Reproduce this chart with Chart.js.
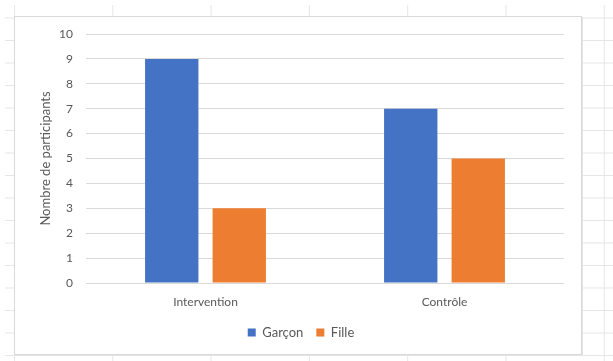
<!DOCTYPE html>
<html>
<head>
<meta charset="utf-8">
<script src="https://cdn.jsdelivr.net/npm/chart.js@4"></script>
<style>
  html, body { margin: 0; padding: 0; background: #fff; }
  body { width: 613px; height: 361px; position: relative; overflow: hidden; }
  /* worksheet cell grid behind the chart */
  .sheet {
    position: absolute; left: 5px; top: 5px; right: 0; bottom: 0;
    background-image:
      linear-gradient(to right, #e6e6e6 1px, transparent 1px),
      linear-gradient(to bottom, #e6e6e6 1px, transparent 1px);
    background-size: 98.3px 22.5px;
    background-position: 9px 12.5px;
  }
  .box {
    position: absolute; left: 14px; top: 16px; width: 566px; height: 337px;
    background: #fff; border: 1px solid #d9d9d9;
    box-shadow: 1px 1px 0 #e4e4e4;
  }
  .box canvas { display: block; }
</style>
</head>
<body>
<div class="sheet"></div>
<div class="box"><canvas id="c" width="566" height="337"></canvas></div>
<script>
const categories = ['Intervention', 'Contrôle'];
const garcon = [9, 7];
const fille = [3, 5];
const yTicks = [0, 1, 2, 3, 4, 5, 6, 7, 8, 9, 10];

const FONT = 'Lato, "Open Sans", sans-serif';
const GREY = '#595959';

new Chart(document.getElementById('c'), {
  type: 'bar',
  data: {
    labels: categories,
    datasets: [
      { label: 'Garçon', data: garcon, backgroundColor: '#4472C4' },
      { label: 'Fille', data: fille, backgroundColor: '#ED7D31' }
    ]
  },
  options: {
    responsive: false,
    animation: false,
    devicePixelRatio: 1,
    layout: { padding: { left: 23, top: 17, right: 17, bottom: 5 } },
    datasets: { bar: { categoryPercentage: 0.565, barPercentage: 0.79 } },
    scales: {
      x: {
        grid: { display: false, drawTicks: false },
        border: { display: false },
        ticks: { color: GREY, font: { family: FONT, size: 12 }, padding: 12 },
        afterFit: s => { s.height = 30; }
      },
      y: {
        min: 0, max: 10,
        afterBuildTicks: s => { s.ticks = yTicks.map(v => ({ value: v })); },
        grid: { color: '#d9d9d9', drawTicks: false },
        border: { display: false },
        ticks: { color: GREY, font: { family: FONT, size: 12 }, padding: 13 },
        title: {
          display: true, text: 'Nombre de participants',
          color: GREY, font: { family: FONT, size: 13 }, padding: { top: 0, bottom: 0 }
        },
        afterFit: s => { s.width = 48; s.paddingTop = 0; s.paddingBottom = 0; }
      }
    },
    plugins: {
      tooltip: { enabled: false },
      legend: {
        position: 'bottom',
        labels: {
          color: GREY, font: { family: FONT, size: 13 },
          boxWidth: 8, boxHeight: 8, padding: 13
        }
      }
    }
  }
});
</script>
</body>
</html>
